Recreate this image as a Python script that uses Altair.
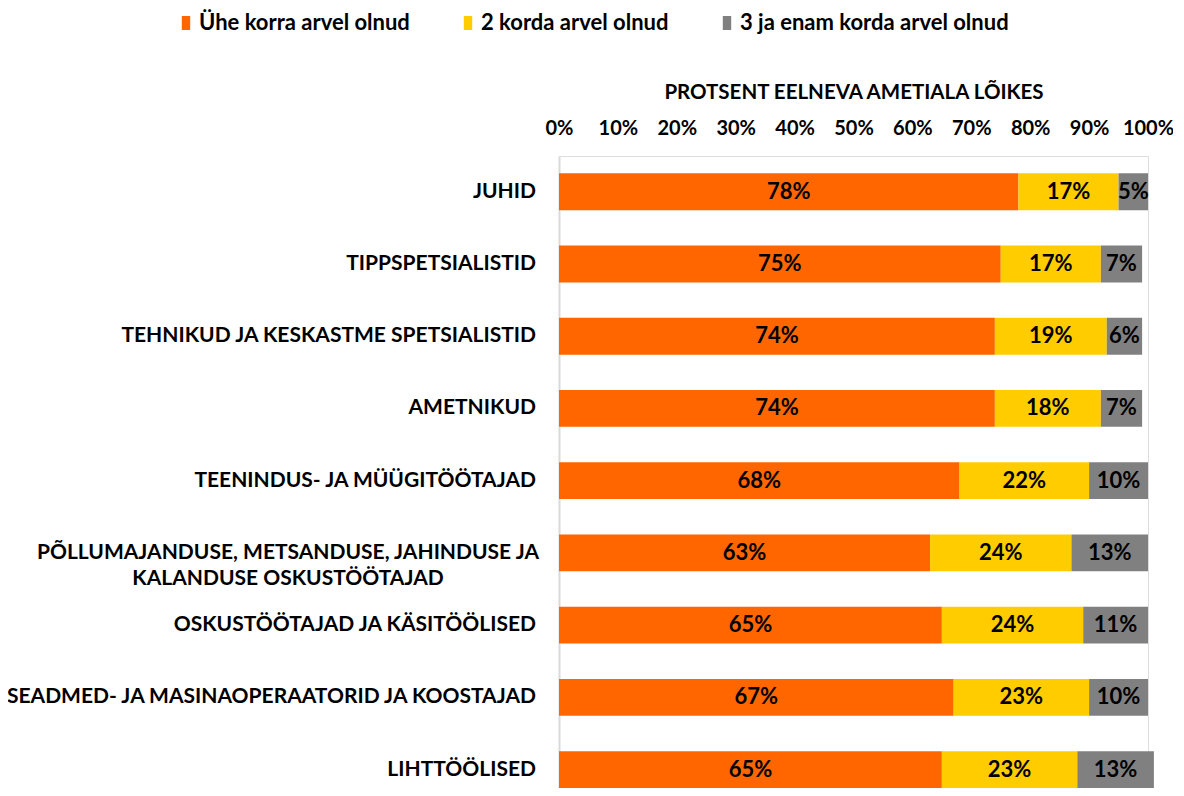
import altair as alt
import pandas as pd

categories = [
    "JUHID",
    "TIPPSPETSIALISTID",
    "TEHNIKUD JA KESKASTME SPETSIALISTID",
    "AMETNIKUD",
    "TEENINDUS- JA MÜÜGITÖÖTAJAD",
    "PÕLLUMAJANDUSE, METSANDUSE, JAHINDUSE JA KALANDUSE OSKUSTÖÖTAJAD",
    "OSKUSTÖÖTAJAD JA KÄSITÖÖLISED",
    "SEADMED- JA MASINAOPERAATORID JA KOOSTAJAD",
    "LIHTTÖÖLISED",
]
once = [78, 75, 74, 74, 68, 63, 65, 67, 65]
twice = [17, 17, 19, 18, 22, 24, 24, 23, 23]
three_plus = [5, 7, 6, 7, 10, 13, 11, 10, 13]
series = ["Ühe korra arvel olnud", "2 korda arvel olnud", "3 ja enam korda arvel olnud"]
colors = ["#FF6600", "#FFCC00", "#808080"]
x_ticks = [0, 10, 20, 30, 40, 50, 60, 70, 80, 90, 100]
axis_title = "PROTSENT EELNEVA AMETIALA LÕIKES"
wrapped = "PÕLLUMAJANDUSE, METSANDUSE, JAHINDUSE JA KALANDUSE OSKUSTÖÖTAJAD"

rows = []
for i, c in enumerate(categories):
    for j, vals in enumerate([once, twice, three_plus]):
        rows.append({"category": c, "series": series[j], "order": j, "value": vals[i]})
df = pd.DataFrame(rows)
cat_df = pd.DataFrame({"category": categories})

FONT = "Lato"

y_enc = alt.Y(
    "category:N",
    sort=categories,
    scale=alt.Scale(paddingInner=0.49, paddingOuter=0.12, align=1),
    axis=alt.Axis(labels=False, ticks=False, title=None, domain=True,
                  domainColor="#D9D9D9", domainWidth=2),
)

base = (
    alt.Chart(df)
    .transform_stack(stack="value", groupby=["category"], as_=["v0", "v1"],
                     sort=[alt.SortField("order", order="ascending")])
    .transform_calculate(mid="(datum.v0 + datum.v1) / 2", lbl="datum.value + '%'")
)

bars = base.mark_bar().encode(
    x=alt.X(
        "v0:Q",
        scale=alt.Scale(domain=[0, 100], nice=False),
        axis=alt.Axis(
            orient="top", values=x_ticks, labelExpr="datum.value + '%'",
            labelOverlap=False, labelFlush=False,
            title=axis_title, grid=False, ticks=False, domain=False,
            labelPadding=18, titlePadding=16,
            labelFont=FONT, labelFontSize=20, labelFontWeight="bold", labelColor="#000",
            titleFont=FONT, titleFontSize=20.5, titleFontWeight="bold", titleColor="#000",
        ),
    ),
    x2="v1:Q",
    y=y_enc,
    color=alt.Color(
        "series:N",
        scale=alt.Scale(domain=series, range=colors),
        sort=series,
        legend=alt.Legend(
            title=None, orient="none", legendX=-384, legendY=-144,
            direction="horizontal", labelFont=FONT, labelFontSize=22,
            labelFontWeight="bold", labelColor="#000", labelLimit=0,
            symbolType="M-0.6,-1H0.6V1H-0.6Z", symbolSize=196, symbolStrokeWidth=0,
            columnPadding=47, labelOffset=2, padding=0,
        ),
    ),
    order=alt.Order("order:Q"),
)

bar_text = base.mark_text(font=FONT, fontSize=22, fontWeight="bold", color="#000").encode(
    x="mid:Q",
    y=alt.Y("category:N", sort=categories),
    text="lbl:N",
)

ylab_single = (
    alt.Chart(cat_df)
    .transform_filter(alt.datum.category != wrapped)
    .mark_text(font=FONT, fontSize=21, fontWeight="bold", color="#000", align="right", baseline="middle")
    .encode(x=alt.value(-23), y=alt.Y("category:N", sort=categories), text="category:N")
)

ylab_wrapped = (
    alt.Chart(cat_df)
    .transform_filter(alt.datum.category == wrapped)
    .transform_calculate(txt="replace(datum.category, 'JAHINDUSE JA ', 'JAHINDUSE JA\\n')")
    .mark_text(font=FONT, fontSize=21, fontWeight="bold", color="#000", align="center",
               baseline="middle", lineBreak="\n", lineHeight=26)
    .encode(x=alt.value(-271), y=alt.Y("category:N", sort=categories), text="txt:N")
)

chart = (
    alt.layer(bars, bar_text, ylab_single, ylab_wrapped)
    .properties(width=589, height=632)
    .configure_view(stroke=None)
    .configure(
        autosize=alt.AutoSizeParams(type="none"),
        padding={"left": 551, "top": 148, "right": 25, "bottom": 0},
    )
)

chart.save("out.html", embed_options={"renderer": "svg", "actions": False})
